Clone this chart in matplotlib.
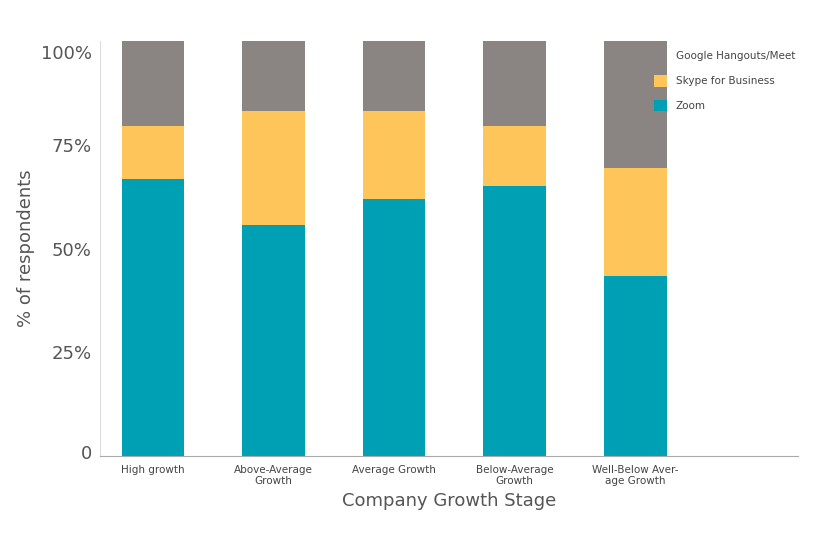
import matplotlib.pyplot as plt
import numpy as np

categories = ["High growth", "Above-Average\nGrowth", "Average Growth", "Below-Average\nGrowth", "Well-Below Aver-\nage Growth"]
zoom = [66.7, 55.7, 61.9, 65.1, 43.4]
skype = [12.8, 27.4, 21.2, 14.4, 26.0]
google = [20.5, 16.9, 16.9, 20.5, 30.6]

fig = plt.figure(figsize=(8.4, 5.38), dpi=100)
ax = fig.add_axes([0.119, 0.152, 0.831, 0.772])
x = np.arange(len(categories))
w = 0.52
ax.bar(x, zoom, w, color="#00A0B4", label="Zoom")
ax.bar(x, skype, w, bottom=zoom, color="#FDC55A", label="Skype for Business")
ax.bar(x, google, w, bottom=np.add(zoom, skype), color="#8A8583", label="Google Hangouts/Meet")
ax.set_xlim(-0.44, 5.35)
ax.set_ylim(0, 100)
ax.set_yticks([1, 25, 50, 75, 97.3])
ax.set_yticklabels(["0", "25%", "50%", "75%", "100%"], fontsize=13, color="#555555")
ax.set_xticks(x)
ax.set_xticklabels(categories, fontsize=7.5, color="#444444")
ax.tick_params(length=0, pad=6)
for s in ["top", "right"]:
    ax.spines[s].set_visible(False)
ax.spines["bottom"].set_color("#aaaaaa")
ax.spines["left"].set_color("#dddddd")
ax.set_xlabel("Company Growth Stage", fontsize=13, color="#555555", labelpad=4)
ax.set_ylabel("% of respondents", fontsize=13, color="#555555")
h, l = ax.get_legend_handles_labels()
ax.legend(h[::-1], l[::-1], loc="upper left", bbox_to_anchor=(0.78, 1.0), frameon=False,
          fontsize=7.5, handlelength=1.3, handleheight=1.3, labelspacing=1.3, labelcolor="#444444")
fig.savefig("out.png")
